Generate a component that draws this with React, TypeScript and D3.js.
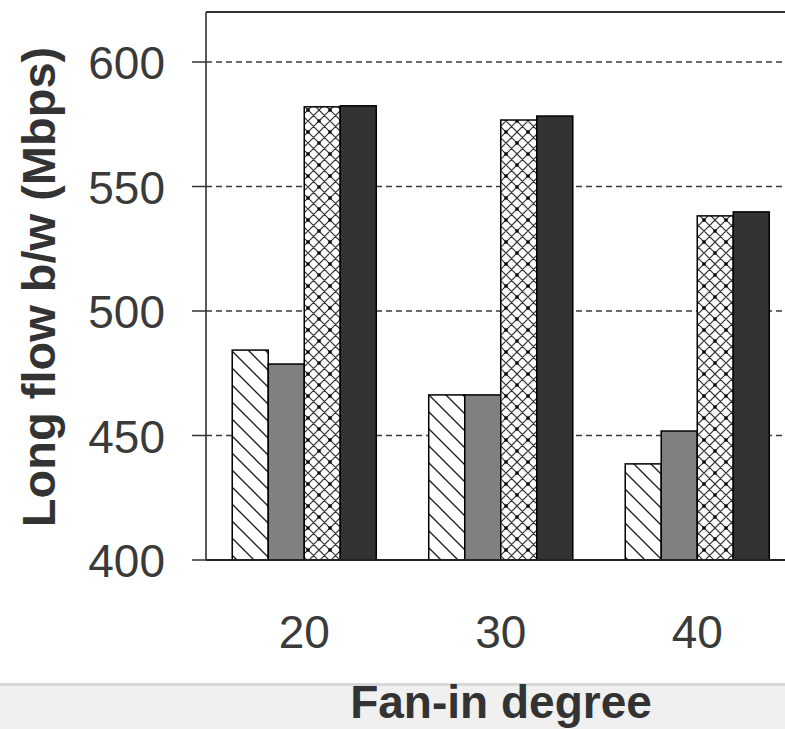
import React from 'react';
import * as d3 from 'd3';

const categories = ['20', '30', '40'];
const seriesNames = ['hatched', 'gray', 'crosshatch', 'dark'];
const seriesHatched = [484.3, 466.3, 438.6];
const seriesGray = [478.7, 466.3, 451.8];
const seriesCross = [582.0, 576.7, 538.2];
const seriesDark = [582.4, 578.3, 539.8];
const yTicks = [400, 450, 500, 550, 600];
const yLabel = 'Long flow b/w (Mbps)';
const xLabel = 'Fan-in degree';

const seriesValues = [seriesHatched, seriesGray, seriesCross, seriesDark];
const seriesFills = ['url(#hatch)', '#808080', 'url(#cross)', '#333333'];

export default function App() {
  const W = 785;
  const H = 729;
  const plotLeft = 206;
  const plotTop = 12;
  const plotBottom = 560;
  const plotRight = 795.5;

  const y = d3.scaleLinear().domain([400, 600]).range([plotBottom, 62]);
  const x = d3
    .scaleBand<string>()
    .domain(categories)
    .range([plotLeft, plotRight])
    .paddingInner(0.267)
    .paddingOuter(0.1335);
  const xs = d3.scaleBand<string>().domain(seriesNames).range([0, x.bandwidth()]).padding(0);

  const font = "'Liberation Sans', Arial, Helvetica, sans-serif";

  return (
    <div style={{ position: 'absolute', left: 0, top: 0 }}>
      <svg width={W} height={H} style={{ display: 'block', background: '#fff' }}>
        <defs>
          <pattern id="hatch" patternUnits="userSpaceOnUse" width={17} height={17}>
            <rect width={17} height={17} fill="#fff" />
            <path d="M0,0L17,17 M-2,15L2,19 M15,-2L19,2" stroke="#1a1a1a" strokeWidth={1.3} />
          </pattern>
          <pattern id="cross" patternUnits="userSpaceOnUse" width={22} height={22}>
            <rect width={22} height={22} fill="#fff" />
            <path
              d="M0,0L22,22 M11,0L22,11 M0,11L11,22 M11,0L0,11 M22,0L0,22 M22,11L11,22 M-1,1L1,-1 M21,23L23,21 M-1,21L1,23 M21,-1L23,1"
              stroke="#333"
              strokeWidth={1.2}
            />
            <rect x={-1.6} y={-1.6} width={3.2} height={3.2} fill="#000" />
            <rect x={20.4} y={-1.6} width={3.2} height={3.2} fill="#000" />
            <rect x={-1.6} y={20.4} width={3.2} height={3.2} fill="#000" />
            <rect x={20.4} y={20.4} width={3.2} height={3.2} fill="#000" />
            <rect x={9.4} y={9.4} width={3.2} height={3.2} fill="#000" />
          </pattern>
        </defs>

        {/* gridlines */}
        {yTicks
          .filter((t) => t > 400)
          .map((t) => (
            <line
              key={'g' + t}
              x1={plotLeft}
              x2={W}
              y1={y(t)}
              y2={y(t)}
              stroke="#3a3a3a"
              strokeWidth={1.5}
              strokeDasharray="6,4"
            />
          ))}

        {/* bars */}
        {categories.map((c, ci) => (
          <g key={c}>
            {seriesNames.map((s, si) => {
              const v = seriesValues[si][ci];
              const bx = (x(c) as number) + (xs(s) as number);
              return (
                <rect
                  key={s}
                  x={bx}
                  y={y(v)}
                  width={xs.bandwidth()}
                  height={plotBottom - y(v)}
                  fill={seriesFills[si]}
                  stroke="#000"
                  strokeWidth={1.5}
                />
              );
            })}
          </g>
        ))}

        {/* frame */}
        <line x1={plotLeft} x2={W} y1={plotTop} y2={plotTop} stroke="#333" strokeWidth={2} />
        <line x1={plotLeft} x2={plotLeft} y1={plotTop} y2={plotBottom} stroke="#333" strokeWidth={1.6} />
        <line x1={plotLeft} x2={W} y1={plotBottom} y2={plotBottom} stroke="#222" strokeWidth={1.8} />

        {/* y ticks */}
        {yTicks.map((t) => (
          <g key={'t' + t}>
            <line x1={192} x2={plotLeft} y1={y(t)} y2={y(t)} stroke="#333" strokeWidth={1.5} />
            <text
              x={165}
              y={y(t) + 17}
              textAnchor="end"
              fontFamily={font}
              fontSize={46}
              fill="#3a3a3a"
            >
              {t}
            </text>
          </g>
        ))}

        {/* x tick labels */}
        {categories.map((c) => (
          <text
            key={'x' + c}
            x={(x(c) as number) + x.bandwidth() / 2}
            y={648}
            textAnchor="middle"
            fontFamily={font}
            fontSize={46}
            fill="#3a3a3a"
          >
            {c}
          </text>
        ))}

        {/* y axis title */}
        <text
          transform="translate(55,287) rotate(-90)"
          textAnchor="middle"
          fontFamily={font}
          fontWeight="bold"
          fontSize={47}
          fill="#333"
        >
          {yLabel}
        </text>

        {/* bottom band */}
        <rect x={0} y={683} width={W} height={H - 683} fill="#f0f0f0" />
        <rect x={0} y={683} width={W} height={3} fill="#d8d8d8" />
        <text
          x={501}
          y={718}
          textAnchor="middle"
          fontFamily={font}
          fontWeight="bold"
          fontSize={46}
          fill="#333"
        >
          {xLabel}
        </text>
      </svg>
    </div>
  );
}
